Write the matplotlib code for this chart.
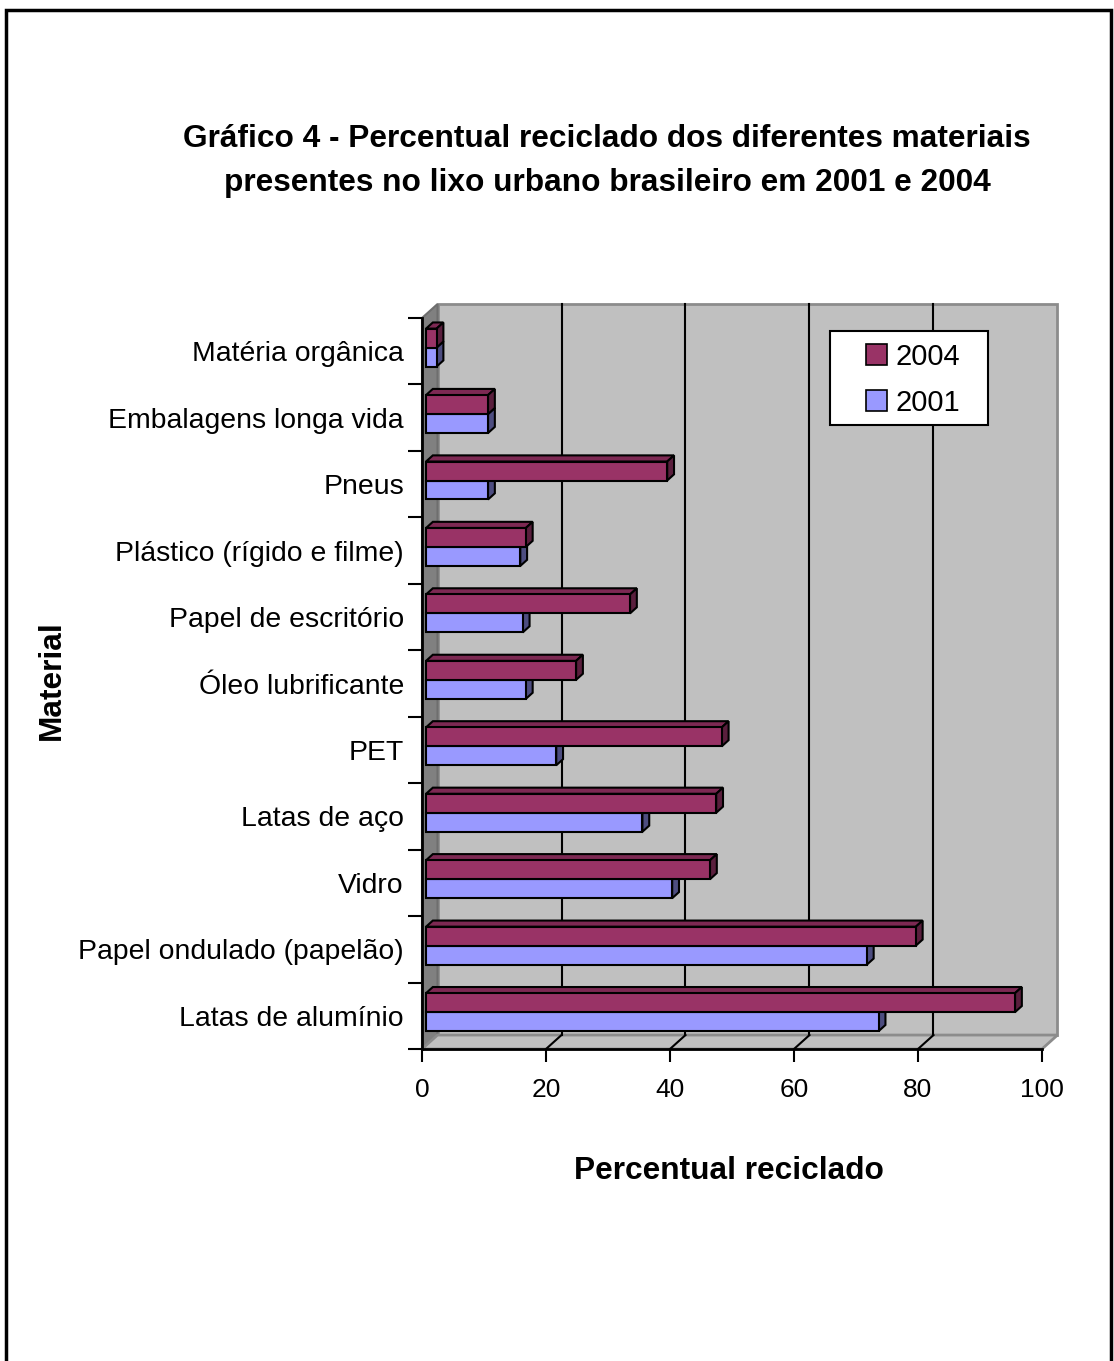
import numpy as np
import matplotlib
matplotlib.use('Agg')
import matplotlib.pyplot as plt
from matplotlib.patches import Polygon, Patch, Rectangle

plt.rcParams['font.family'] = ['Liberation Sans', 'DejaVu Sans']

# data (bottom to top, as Excel draws the categories)
materiais = ['Latas de alumínio', 'Papel ondulado (papelão)', 'Vidro', 'Latas de aço', 'PET',
             'Óleo lubrificante', 'Papel de escritório', 'Plástico (rígido e filme)', 'Pneus',
             'Embalagens longa vida', 'Matéria orgânica']
v2004 = [95.0, 79.0, 45.8, 46.8, 47.7, 24.2, 32.9, 16.1, 38.9, 10.0, 1.7]
v2001 = [73.0, 71.1, 39.7, 34.9, 21.0, 16.1, 15.6, 15.2, 10.0, 10.0, 1.7]
anos = ['2004', '2001']
xticks = [0, 20, 40, 60, 80, 100]

# colours
cor2004 = '#993366'
cor2001 = '#9999FF'
topo = {'2004': '#7d2953', '2001': '#7a7acc'}
lado = {'2004': '#5a1f3d', '2001': '#4d4d80'}
parede = '#C0C0C0'
parede_esq = '#808080'

# 3D depth (data units) and bar geometry
dx, dy = 2.5, 0.21
f0, f1 = 0.26, 0.70
w = 1 / 3.5

fig = plt.figure(figsize=(11.14, 13.61), dpi=100)
ax = fig.add_axes([422 / 1114, 1 - 1049 / 1361, 620 / 1114, 731 / 1361])
n = len(materiais)
ax.set_xlim(0, 100)
ax.set_ylim(-0.5, n - 0.5)
ax.set_facecolor('none')

y0, y1 = -0.5, n - 0.5
# back wall
ax.add_patch(Polygon([(dx, y0 + dy), (100 + dx, y0 + dy), (100 + dx, y1 + dy), (dx, y1 + dy)],
                     closed=True, facecolor=parede, edgecolor='#8c8c8c', lw=2, clip_on=False, zorder=0))
# left wall
ax.add_patch(Polygon([(0, y0), (dx, y0 + dy), (dx, y1 + dy), (0, y1)],
                     closed=True, facecolor=parede_esq, edgecolor='#6e6e6e', lw=1.5, clip_on=False, zorder=0.5))
# floor
ax.add_patch(Polygon([(0, y0), (100, y0), (100 + dx, y0 + dy), (dx, y0 + dy)],
                     closed=True, facecolor=parede, edgecolor='#8c8c8c', lw=2, clip_on=False, zorder=0.5))
# gridlines on wall and floor
for t in xticks[1:-1]:
    ax.plot([t + dx, t + dx], [y0 + dy, y1 + dy], color='black', lw=1.5, clip_on=False, zorder=0.8)
    ax.plot([t, t + dx], [y0, y0 + dy], color='black', lw=1.5, clip_on=False, zorder=0.8)


def barra3d(v, yb, face, ano):
    xa, xb = f0 * dx, v + f0 * dx
    ya = yb + f0 * dy
    kw = dict(closed=True, edgecolor='black', lw=1.5, clip_on=False, zorder=2)
    ax.add_patch(Polygon([(xa, ya + w), (xb, ya + w), (v + f1 * dx, yb + w + f1 * dy), (f1 * dx, yb + w + f1 * dy)],
                         facecolor=topo[ano], **kw))
    ax.add_patch(Polygon([(xb, ya), (v + f1 * dx, yb + f1 * dy), (v + f1 * dx, yb + w + f1 * dy), (xb, ya + w)],
                         facecolor=lado[ano], **kw))
    ax.add_patch(Polygon([(xa, ya), (xb, ya), (xb, ya + w), (xa, ya + w)], facecolor=face, **kw))


for i in range(n):
    barra3d(v2001[i], i - w, cor2001, '2001')
    barra3d(v2004[i], i, cor2004, '2004')

# axes
for s in ['top', 'right']:
    ax.spines[s].set_visible(False)
for s in ['left', 'bottom']:
    ax.spines[s].set_linewidth(2)
    ax.spines[s].set_zorder(3)
ax.set_xticks(xticks)
ax.set_xticklabels([str(t) for t in xticks], fontsize=19)
ax.tick_params(axis='x', direction='out', length=9.5, width=1.5, pad=11.5)
ax.set_yticks(np.arange(n))
ax.set_yticklabels(materiais, fontsize=20.4)
ax.set_yticks(np.arange(n + 1) - 0.5, minor=True)
ax.tick_params(axis='y', which='major', length=0, pad=13)
ax.tick_params(axis='y', which='minor', direction='out', length=10, width=1.5)

fig.text(729 / 1114, 1 - 1171 / 1361, 'Percentual reciclado', fontsize=22.8, fontweight='bold',
         ha='center', va='center')
fig.text(52 / 1114, 1 - 680 / 1361, 'Material', fontsize=22.8, fontweight='bold',
         ha='center', va='center', rotation=90)
fig.text(607 / 1114, 1 - 161 / 1361,
         'Gráfico 4 - Percentual reciclado dos diferentes materiais\npresentes no lixo urbano brasileiro em 2001 e 2004',
         fontsize=22.8, fontweight='bold', ha='center', va='center', linespacing=1.6)

# legend: box drawn separately (Excel pads it more on the sides than top/bottom)
fig.add_artist(Rectangle((830 / 1114, 1 - 425 / 1361), 158 / 1114, 94 / 1361, transform=fig.transFigure,
                         facecolor='white', edgecolor='black', lw=1.5, zorder=4))
handles = [Patch(facecolor=cor2004, edgecolor='black', lw=1.2), Patch(facecolor=cor2001, edgecolor='black', lw=1.2)]
leg = fig.legend(handles, anos, loc='center', bbox_to_anchor=(913 / 1114, 1 - 380 / 1361), fontsize=21,
                 frameon=False, handlelength=0.72, handleheight=0.72, handletextpad=0.3,
                 borderpad=0.2, labelspacing=0.62)
leg.set_zorder(5)

# outer frame
fig.add_artist(Rectangle((6 / 1114, -0.01), 1105 / 1114, 1 - 10 / 1361 + 0.01, transform=fig.transFigure,
                         fill=False, edgecolor='black', lw=2.5))

fig.savefig('out.png', dpi=100)
